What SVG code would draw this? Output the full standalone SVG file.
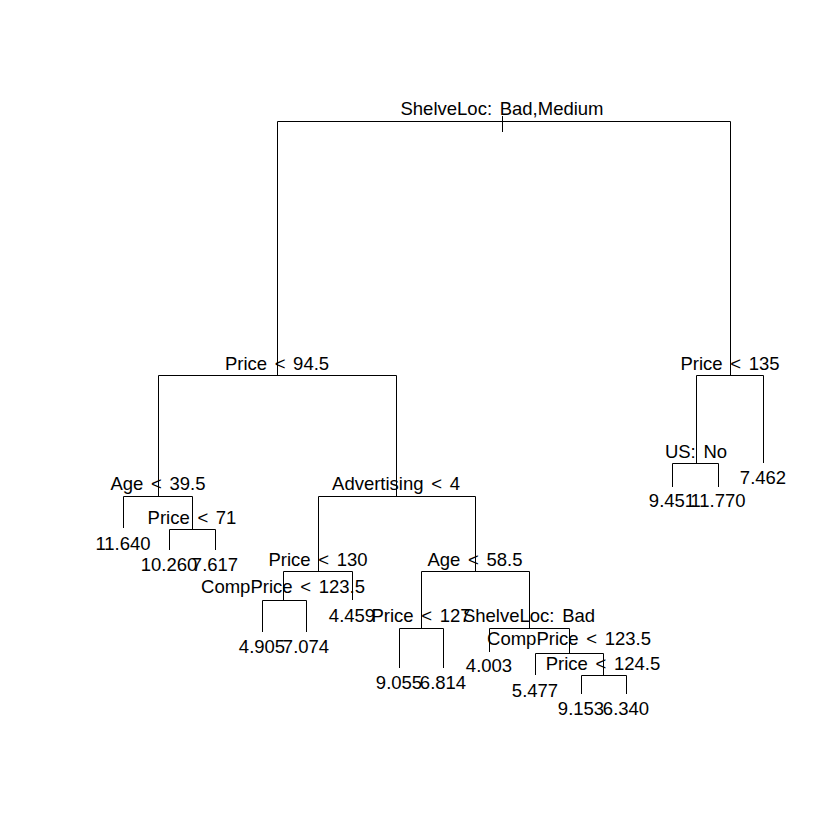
<svg xmlns="http://www.w3.org/2000/svg" width="840" height="840" viewBox="0 0 840 840">
<style>
text{font-family:"Liberation Sans",Arial,sans-serif;font-size:18.5px;fill:#000;text-anchor:middle;word-spacing:2.5px}
.e{fill:none;stroke:#000;stroke-width:1}
</style>
<rect width="840" height="840" fill="#fff"/>
<g id="connectors" class="e">
<path class="e" d="M502.5,116V132 M277.5,121.5H730.5
M277.5,121.5V375.5 M158.5,375.5H396.5
M730.5,121.5V375.5 M696.5,375.5H763.5
M158.5,375.5V496.5 M123.5,496.5H192.5
M396.5,375.5V496.5 M318.5,496.5H475.5
M123.5,496.5V528
M192.5,496.5V529.5 M169.5,529.5H215.5
M169.5,529.5V550 M215.5,529.5V550
M318.5,496.5V571.5 M283.5,571.5H352.5
M475.5,496.5V571.5 M421.5,571.5H529.5
M283.5,571.5V600.5 M262.5,600.5H306.5
M352.5,571.5V600
M262.5,600.5V632 M306.5,600.5V632
M421.5,571.5V628.5 M399.5,628.5H443.5
M399.5,628.5V668 M443.5,628.5V668
M529.5,571.5V628.5 M489.5,628.5H569.5
M489.5,628.5V652
M569.5,628.5V653.5 M535.5,653.5H603.5
M535.5,653.5V675
M603.5,653.5V675.5 M581.5,675.5H626.5
M581.5,675.5V694 M626.5,675.5V694
M696.5,375.5V463.5 M672.5,463.5H718.5
M763.5,375.5V463
M672.5,463.5V487 M718.5,463.5V487"/>
</g>
<g id="n1"><text x="502" y="115">ShelveLoc: Bad,Medium</text></g>
<g id="n2"><text x="277" y="370">Price &lt; 94.5</text></g>
<g id="n3"><text x="730" y="370">Price &lt; 135</text></g>
<g id="n4"><text x="158" y="490">Age &lt; 39.5</text></g>
<g id="n5"><text x="396" y="490">Advertising &lt; 4</text></g>
<g id="n8"><text x="123" y="550">11.640</text></g>
<g id="n9"><text x="192" y="524">Price &lt; 71</text></g>
<g id="n18"><text x="169" y="571">10.260</text></g>
<g id="n19"><text x="215" y="571">7.617</text></g>
<g id="n10"><text x="318" y="566">Price &lt; 130</text></g>
<g id="n11"><text x="475" y="566">Age &lt; 58.5</text></g>
<g id="n20"><text x="283" y="593">CompPrice &lt; 123.5</text></g>
<g id="n21"><text x="352" y="622">4.459</text></g>
<g id="n40"><text x="262" y="653">4.905</text></g>
<g id="n41"><text x="306" y="653">7.074</text></g>
<g id="n22"><text x="421" y="622">Price &lt; 127</text></g>
<g id="n23"><text x="529" y="622">ShelveLoc: Bad</text></g>
<g id="n44"><text x="399" y="689">9.055</text></g>
<g id="n45"><text x="443" y="689">6.814</text></g>
<g id="n46"><text x="489" y="672">4.003</text></g>
<g id="n47"><text x="569" y="645">CompPrice &lt; 123.5</text></g>
<g id="n94"><text x="535" y="697">5.477</text></g>
<g id="n95"><text x="603" y="670">Price &lt; 124.5</text></g>
<g id="n190"><text x="581" y="715">9.153</text></g>
<g id="n191"><text x="626" y="715">6.340</text></g>
<g id="n6"><text x="696" y="458">US: No</text></g>
<g id="n7"><text x="763" y="484">7.462</text></g>
<g id="n12"><text x="672" y="507">9.451</text></g>
<g id="n13"><text x="718" y="507">11.770</text></g>
</svg>
